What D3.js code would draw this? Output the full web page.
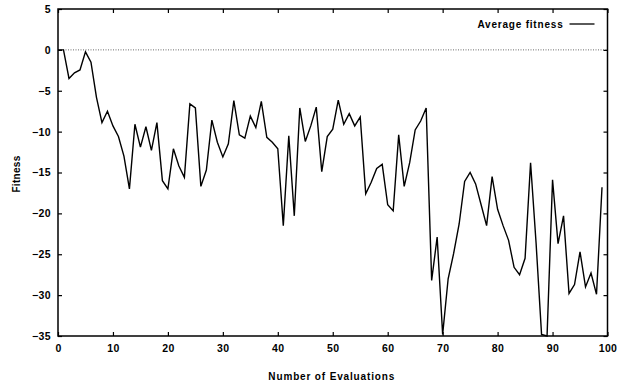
<!DOCTYPE html>
<html>
<head>
<meta charset="utf-8">
<script src="https://d3js.org/d3.v7.min.js"></script>
<style>
body { margin: 0; background: #fff; }
text { font-family: "Liberation Sans", Arial, sans-serif; fill: #000; }
</style>
</head>
<body>
<div id="visualization"></div>
<script>
// data
var evaluations = d3.range(0, 100);
var fitness = [
    0, 0, -3.5, -2.8, -2.45, -0.25, -1.5, -5.8, -8.9, -7.5,
    -9.3, -10.6, -13, -17, -9.1, -11.9, -9.4, -12.3, -8.9, -16,
    -17, -12.1, -14.2, -15.6, -6.6, -7.1, -16.7, -14.7, -8.6, -11.3,
    -13.1, -11.5, -6.2, -10.4, -10.8, -8.1, -9.5, -6.3, -10.7, -11.3,
    -12.1, -21.5, -10.5, -20.3, -7.1, -11.2, -9.3, -7, -14.9, -10.6,
    -9.7, -6.15, -9.1, -7.8, -9.3, -8.2, -17.6, -16.2, -14.5, -14,
    -18.95, -19.7, -10.4, -16.7, -13.8, -9.8, -8.7, -7.1, -28.2, -22.9,
    -34.8, -28, -24.9, -21.3, -16.1, -15, -16.4, -18.95, -21.5, -15.5,
    -19.5, -21.5, -23.3, -26.6, -27.5, -25.5, -13.8, -23.6, -34.8, -35,
    -15.9, -23.7, -20.3, -29.8, -28.7, -24.7, -29, -27.3, -29.9, -16.8
];
var xTicks = [0, 10, 20, 30, 40, 50, 60, 70, 80, 90, 100];
var yTicks = [5, 0, -5, -10, -15, -20, -25, -30, -35];
var seriesName = "Average fitness";

//Define Margin
var margin = {left: 58, right: 15.5, top: 9, bottom: 51},
    width = 623 - margin.left - margin.right,
    height = 387 - margin.top - margin.bottom;

var svg = d3.select("#visualization")
    .append("svg")
    .attr("width", 623)
    .attr("height", 387)
    .append("g")
    .attr("transform", "translate(" + margin.left + "," + margin.top + ")");

var x = d3.scaleLinear().domain([0, 100]).range([0, width]);
var y = d3.scaleLinear().domain([-35, 5]).range([height, 0]);

// zero line, dotted
svg.append("line")
    .attr("x1", 0)
    .attr("x2", width)
    .attr("y1", y(0))
    .attr("y2", y(0))
    .attr("stroke", "#444")
    .attr("stroke-width", 0.8)
    .attr("stroke-dasharray", "1,1.5");

// axes with inward ticks, mirrored on top/right
function styleAxis(g) {
    g.select(".domain").remove();
    g.selectAll(".tick line").attr("stroke", "#000").attr("stroke-width", 1.2);
    g.selectAll(".tick text")
        .attr("font-size", "10.5px")
        .attr("font-weight", "bold")
        .attr("letter-spacing", "0.4px")
        .attr("fill", "#000");
}

svg.append("g")
    .attr("transform", "translate(0," + height + ")")
    .call(d3.axisBottom(x).tickValues(xTicks).tickSizeInner(-4).tickPadding(9))
    .call(styleAxis);

svg.append("g")
    .call(d3.axisTop(x).tickValues(xTicks).tickSizeInner(-4).tickFormat(""))
    .call(styleAxis);

svg.append("g")
    .call(d3.axisLeft(y).tickValues(yTicks).tickSizeInner(-4).tickPadding(7))
    .call(styleAxis);

svg.append("g")
    .attr("transform", "translate(" + width + ",0)")
    .call(d3.axisRight(y).tickValues(yTicks).tickSizeInner(-4).tickFormat(""))
    .call(styleAxis);

// frame
svg.append("rect")
    .attr("width", width)
    .attr("height", height)
    .attr("fill", "none")
    .attr("stroke", "#000")
    .attr("stroke-width", 1.5);

// the series
var line = d3.line()
    .x(function(d, i) { return x(evaluations[i]); })
    .y(function(d) { return y(d); });

svg.append("path")
    .datum(fitness)
    .attr("d", line)
    .attr("fill", "none")
    .attr("stroke", "#000")
    .attr("stroke-width", 1.4)
    .attr("stroke-linejoin", "miter");

// legend
var legend = svg.append("g")
    .attr("transform", "translate(" + (width - 13) + ",15)");

legend.append("line")
    .attr("x1", -25)
    .attr("x2", 0)
    .attr("stroke", "#000")
    .attr("stroke-width", 1.3);

legend.append("text")
    .attr("x", -31)
    .attr("y", 3.5)
    .attr("text-anchor", "end")
    .attr("font-size", "10px")
    .attr("font-weight", "bold")
    .attr("letter-spacing", "0.8px")
    .text(seriesName);

// axis titles
svg.append("text")
    .attr("transform", "translate(-38,165) rotate(-90)")
    .attr("text-anchor", "middle")
    .attr("font-size", "10px")
    .attr("font-weight", "bold")
    .attr("letter-spacing", "0.3px")
    .text("Fitness");

svg.append("text")
    .attr("x", width / 2 - 1)
    .attr("y", height + 44)
    .attr("text-anchor", "middle")
    .attr("font-size", "10px")
    .attr("font-weight", "bold")
    .attr("letter-spacing", "0.85px")
    .text("Number of Evaluations");
</script>
</body>
</html>
